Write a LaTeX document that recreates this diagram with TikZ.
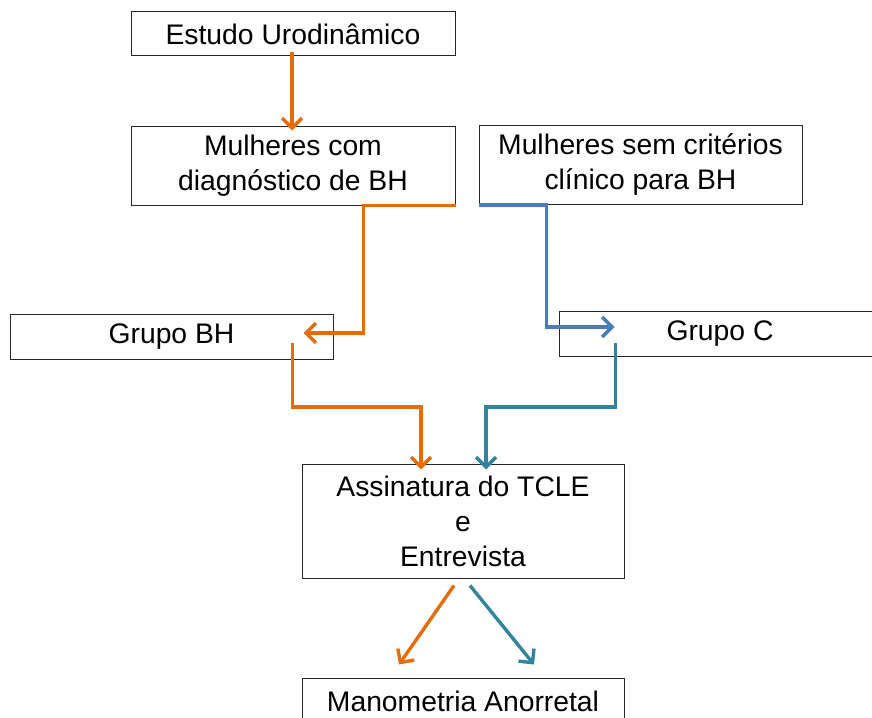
\documentclass[tikz,border=0pt]{standalone}
\usepackage{fontspec}
\setmainfont{Liberation Sans}
\usetikzlibrary{arrows.meta,calc}
\definecolor{cor}{HTML}{E46C0A}
\definecolor{cbl}{HTML}{4A7EBB}
\definecolor{ctl}{HTML}{31849B}
\begin{document}
\begin{tikzpicture}[x=1pt,y=-1pt,
  box/.style={draw=black!85,line width=1pt,rectangle,inner sep=0pt,align=center,
    font=\fontsize{28.3}{35}\selectfont},
  conn/.style={line width=3.4pt,-{Straight Barb[length=10pt,width=20pt,line width=3.4pt]}}]
\useasboundingbox (0,0) rectangle (872,717);
\begin{scope}
\clip (0,0) rectangle (872,717);
\node[box,minimum width=324pt,minimum height=44pt] (b1) at (293,34) {Estudo Urodinâmico};
\node[box,minimum width=324pt,minimum height=79pt] (b2) at (293,165.5) {Mulheres com\\diagnóstico de BH};
\node[box,minimum width=323pt,minimum height=79pt] (b3) at (640.5,165) {Mulheres sem critérios\\clínico para BH};
\node[box,minimum width=323pt,minimum height=45pt] (b4) at (171.5,336.5) {Grupo BH};
\node[box,minimum width=322pt,minimum height=45pt] (b5) at (720,333.5) {Grupo C};
\node[box,minimum width=322pt,minimum height=114pt] (b6) at (463,521) {Assinatura do TCLE\\e\\Entrevista};
\node[box,minimum width=322pt,minimum height=46pt] (b7) at (463,701) {Manometria Anorretal};
\end{scope}
\draw[conn,cor] ($(b1.south)+(-1,-4)$) -- ($(b2.north)+(-1,5)$);
\draw[conn,cor] (b2.south east) -- ++(-92,0) |- ($(b4.east)+(-30,-3.5)$);
\draw[conn,cbl] (b3.south west) -- ++(68,0) |- ($(b5.west)+(56,-6.5)$);
\draw[conn,cor] ($(b4.east)+(-41,6.5)$) -- ++(0,64) -| ($(b6.north)+(-42,6)$);
\draw[conn,ctl] ($(b5.west)+(57,9.5)$) -- ++(0,64) -| ($(b6.north)+(23,6)$);
\draw[conn,cor] ($(b6.south)+(-9,7)$) -- ($(b7.north)+(-64,-13)$);
\draw[conn,ctl] ($(b6.south)+(7,7)$) -- ($(b7.north)+(71,-13)$);
\end{tikzpicture}
\end{document}
